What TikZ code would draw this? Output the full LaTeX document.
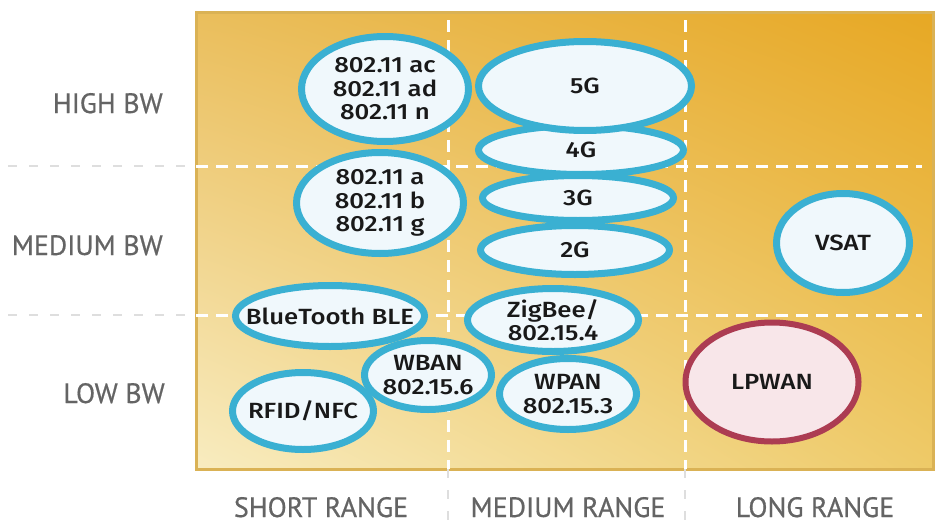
\documentclass[tikz,border=0pt]{standalone}
\usepackage{fontspec}
\setmainfont{Fira Sans}
\newfontfamily\elfont{Fira Sans Medium}[FakeStretch=1.17]
\newfontfamily\axisfont{PT Sans}[FakeBold=0.6]
\usetikzlibrary{shapes.geometric,shadings}
\definecolor{bluebd}{RGB}{58,176,210}
\definecolor{fillbl}{RGB}{240,248,252}
\definecolor{redbd}{RGB}{172,60,82}
\definecolor{fillrd}{RGB}{248,230,233}
\definecolor{txt}{RGB}{25,25,25}
\definecolor{labgray}{RGB}{100,100,100}
\definecolor{framec}{RGB}{218,178,85}
\definecolor{cUL}{RGB}{234,190,92}
\definecolor{cUR}{RGB}{231,168,36}
\definecolor{cLL}{RGB}{248,236,192}
\definecolor{cLR}{RGB}{238,202,104}
\definecolor{gridgray}{RGB}{222,222,222}
\tikzset{
  band/.style={shape=ellipse, draw=bluebd, line width=7pt, fill=fillbl, inner sep=0pt},
  lpw/.style={band, draw=redbd, fill=fillrd, line width=6pt},
  eltext/.style={inner sep=0pt, align=center, text=txt, font=\elfont\fontsize{22}{23.5}\selectfont},
  axislab/.style={text=labgray, font=\axisfont\fontsize{28}{30}\selectfont, inner sep=0pt},
  gridin/.style={white, line width=3pt, dash pattern=on 12pt off 8pt},
  gridout/.style={gridgray, line width=2pt, dash pattern=on 9pt off 12pt}
}
\begin{document}
\begin{tikzpicture}[x=1pt,y=-1pt]
\useasboundingbox (0,0) rectangle (942,530);
% background panel
\shade[upper left=cUL, upper right=cUR, lower left=cLL, lower right=cLR]
  (196,12) rectangle (933,469);
\draw[framec, line width=3pt] (196,12) rectangle (933,469);
% grid
\coordinate (h1a) at (8,166);  \coordinate (h1b) at (196,166); \coordinate (h1c) at (922,166);
\coordinate (h2a) at (8,315);  \coordinate (h2b) at (196,315); \coordinate (h2c) at (922,315);
\coordinate (v1a) at (448,20); \coordinate (v1b) at (448,469); \coordinate (v1c) at (448,526);
\coordinate (v2a) at (685,20); \coordinate (v2b) at (685,469); \coordinate (v2c) at (685,526);
\draw[gridout] (h1a) -- (h1b);
\draw[gridout] (h2a) -- (h2b);
\draw[gridout] (v1b) -- (v1c);
\draw[gridout] (v2b) -- (v2c);
\draw[gridin] (h1b) -- (h1c);
\draw[gridin] (h2b) -- (h2c);
\draw[gridin] (v1a) -- (v1b);
\draw[gridin] (v2a) -- (v2b);
% ellipses
\node[band, minimum width=167pt, minimum height=105pt] (ac) at (385,89) {};
\node[eltext] (acT) at (ac.center) {802.11 ac\\802.11 ad\\802.11 n};
\node[band, minimum width=167pt, minimum height=101pt] (abg) at (380,203) {};
\node[eltext] (abgT) at (abg.center) {802.11 a\\802.11 b\\802.11 g};
\node[band, minimum width=189pt, minimum height=49pt] (g2) at (575,250) {};
\node[eltext] (g2T) at (g2.center) {2G};
\node[band, minimum width=191pt, minimum height=45pt] (g3) at (578,198) {};
\node[eltext] (g3T) at (g3.center) {3G};
\node[band, minimum width=205pt, minimum height=49pt] (g4) at (581,150) {};
\node[eltext] (g4T) at (g4.center) {4G};
\node[band, minimum width=213pt, minimum height=89pt] (g5) at (585,86) {};
\node[eltext] (g5T) at (g5.center) {5G};
\node[band, minimum width=133pt, minimum height=99pt] (vsat) at (843,243) {};
\node[eltext] (vsatT) at (vsat.center) {VSAT};
\node[lpw, minimum width=173pt, minimum height=119pt] (lpwan) at (772,382) {};
\node[eltext] (lpwanT) at (lpwan.center) {LPWAN};
\node[band, minimum width=189pt, minimum height=61pt] (ble) at (330,316) {};
\node[eltext] (bleT) at (ble.center) {BlueTooth BLE};
\node[band, minimum width=141pt, minimum height=77pt] (rfid) at (303,411) {};
\node[eltext] (rfidT) at (rfid.center) {RFID/NFC};
\node[band, minimum width=127pt, minimum height=69pt] (wban) at (428,375) {};
\node[eltext] (wbanT) at (wban.center) {WBAN\\802.15.6};
\node[band, minimum width=171pt, minimum height=63pt] (zig) at (553,320) {};
\node[eltext] (zigT) at (zig.center) {ZigBee/\\802.15.4};
\node[band, minimum width=137pt, minimum height=71pt] (wpan) at (568,394) {};
\node[eltext] (wpanT) at (wpan.center) {WPAN\\802.15.3};
% axis labels
\node[axislab, anchor=base east] (hbw) at (163,113) {HIGH BW};
\node[axislab, anchor=base east] (mbw) at (163,255) {MEDIUM BW};
\node[axislab, anchor=base east] (lbw) at (165,403) {LOW BW};
\node[axislab, anchor=base] (sr) at (321,517) {SHORT RANGE};
\node[axislab, anchor=base] (mr) at (568,517) {MEDIUM RANGE};
\node[axislab, anchor=base] (lr) at (815,517) {LONG RANGE};
\end{tikzpicture}
\end{document}
